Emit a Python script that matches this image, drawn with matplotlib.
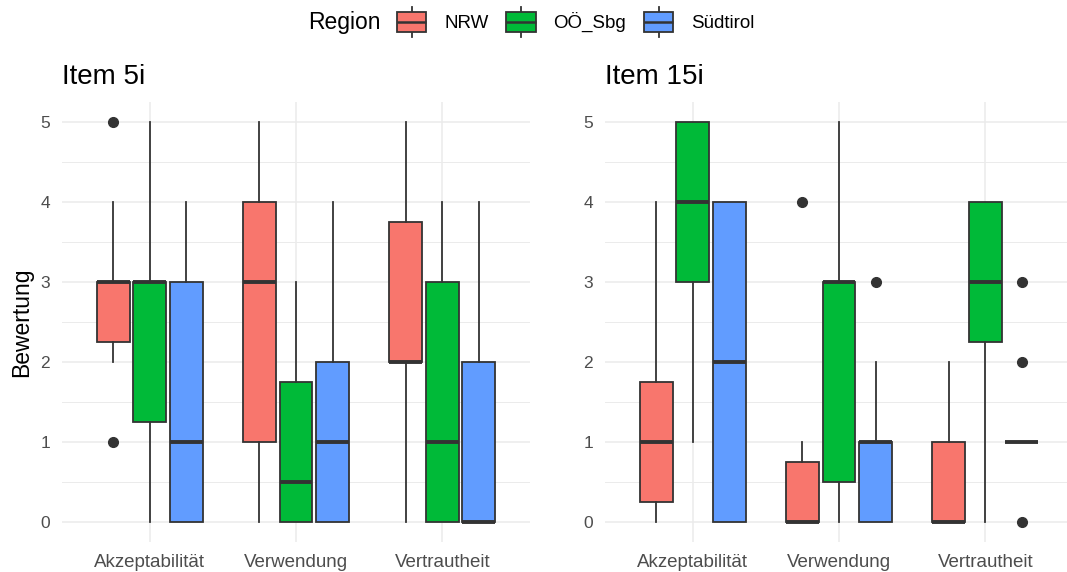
import matplotlib
matplotlib.use("Agg")
import matplotlib.pyplot as plt
from matplotlib.patches import Patch, Rectangle
from matplotlib.lines import Line2D
from matplotlib.legend_handler import HandlerBase

plt.rcParams['font.family'] = ['Liberation Sans', 'DejaVu Sans']

categories = ["Akzeptabilität", "Verwendung", "Vertrautheit"]
regions = ["NRW", "OÖ_Sbg", "Südtirol"]
region_colors = ["#F8766D", "#00BA38", "#619CFF"]

# Fünf-Punkte-Zusammenfassung je Kategorie: unterer Whisker, Q1, Median, Q3, oberer Whisker
item5_nrw = [[2, 2.25, 3, 3, 4], [0, 1, 3, 4, 5], [0, 2, 2, 3.75, 5]]
item5_oe = [[0, 1.25, 3, 3, 5], [0, 0, 0.5, 1.75, 3], [0, 0, 1, 3, 4]]
item5_st = [[0, 0, 1, 3, 4], [0, 0, 1, 2, 4], [0, 0, 0, 2, 4]]
item5_nrw_out = [[5, 1], [], []]
item5_oe_out = [[], [], []]
item5_st_out = [[], [], []]

item15_nrw = [[0, 0.25, 1, 1.75, 4], [0, 0, 0, 0.75, 1], [0, 0, 0, 1, 2]]
item15_oe = [[1, 3, 4, 5, 5], [0, 0.5, 3, 3, 5], [0, 2.25, 3, 4, 4]]
item15_st = [[0, 0, 2, 4, 4], [0, 0, 1, 1, 2], [1, 1, 1, 1, 1]]
item15_nrw_out = [[], [4], []]
item15_oe_out = [[], [], []]
item15_st_out = [[], [3], [3, 2, 0]]

EDGE = "#333333"
GRID = "#EBEBEB"
TICK = "#4D4D4D"


def draw_panel(ax, title, summaries, outliers):
    for r, (summ, outs, col) in enumerate(zip(summaries, outliers, region_colors)):
        stats = []
        for (lo, q1, med, q3, hi), o in zip(summ, outs):
            stats.append(dict(whislo=lo, q1=q1, med=med, q3=q3, whishi=hi, fliers=o))
        pos = [i + 1 + (r - 1) * 0.25 for i in range(len(categories))]
        ax.bxp(stats, positions=pos, widths=0.225, patch_artist=True,
               showcaps=False, manage_ticks=False,
               boxprops=dict(facecolor=col, edgecolor=EDGE, linewidth=1.3),
               whiskerprops=dict(color=EDGE, linewidth=1.3),
               medianprops=dict(color=EDGE, linewidth=2.8, solid_capstyle="butt"),
               flierprops=dict(marker="o", markerfacecolor=EDGE,
                               markeredgecolor=EDGE, markersize=7))

    ax.set_xlim(0.4, 3.6)
    ax.set_ylim(-0.25, 5.25)
    ax.set_xticks([1, 2, 3])
    ax.set_xticklabels(categories)
    ax.set_yticks(range(6))
    ax.set_yticks([0.5, 1.5, 2.5, 3.5, 4.5], minor=True)
    ax.grid(True, which="major", color=GRID, linewidth=1.1)
    ax.grid(True, which="minor", axis="y", color=GRID, linewidth=0.7)
    ax.set_axisbelow(True)
    for sp in ax.spines.values():
        sp.set_visible(False)
    ax.tick_params(which="both", length=0, pad=8.5, colors=TICK)
    ax.tick_params(axis="x", labelsize=13.5)
    ax.tick_params(axis="y", labelsize=12.5)
    ax.set_title(title, loc="left", fontsize=20, pad=13)


class BoxKey(HandlerBase):
    # kleines Boxplot-Symbol für die Legende (Maße in Punkt)
    def create_artists(self, legend, orig_handle, xdescent, ydescent,
                       width, height, fontsize, trans):
        x0 = -xdescent
        cy = -ydescent + height / 2
        cx = x0 + width / 2
        bh, wh = 14.4, 21.6
        lines = [Line2D([cx, cx], [cy - wh / 2, cy - bh / 2], color=EDGE, lw=1.3, transform=trans),
                 Line2D([cx, cx], [cy + bh / 2, cy + wh / 2], color=EDGE, lw=1.3, transform=trans)]
        rect = Rectangle((x0, cy - bh / 2), width, bh, facecolor=orig_handle.get_facecolor(),
                         edgecolor=EDGE, lw=1.3, transform=trans)
        med = Line2D([x0, x0 + width], [cy, cy], color=EDGE, lw=1.8,
                     solid_capstyle="butt", transform=trans)
        return lines + [rect, med]


fig = plt.figure(figsize=(10.67, 5.72), dpi=100)
W, H = 1067, 572
ax1 = fig.add_axes([62 / W, 30 / H, 468 / W, 440 / H])
ax2 = fig.add_axes([605 / W, 30 / H, 468 / W, 440 / H])

draw_panel(ax1, "Item 5i", [item5_nrw, item5_oe, item5_st],
           [item5_nrw_out, item5_oe_out, item5_st_out])
draw_panel(ax2, "Item 15i", [item15_nrw, item15_oe, item15_st],
           [item15_nrw_out, item15_oe_out, item15_st_out])

ax1.set_ylabel("Bewertung", fontsize=16.5)
ax1.yaxis.set_label_coords(-0.062, 0.5)

handles = [Patch(facecolor=c) for c in region_colors]
fig.text(308 / W, 1 - 22 / H, "Region", fontsize=16.5, ha="left", va="center")
fig.legend(handles, regions, handler_map={Patch: BoxKey()}, ncol=3,
           loc="center left", bbox_to_anchor=(397 / W, 1 - 22 / H),
           frameon=False, fontsize=13.5, handlelength=1.55, handleheight=1.6,
           handletextpad=0.96, columnspacing=0.96, borderpad=0, borderaxespad=0)

fig.savefig("out.png", dpi=100)
